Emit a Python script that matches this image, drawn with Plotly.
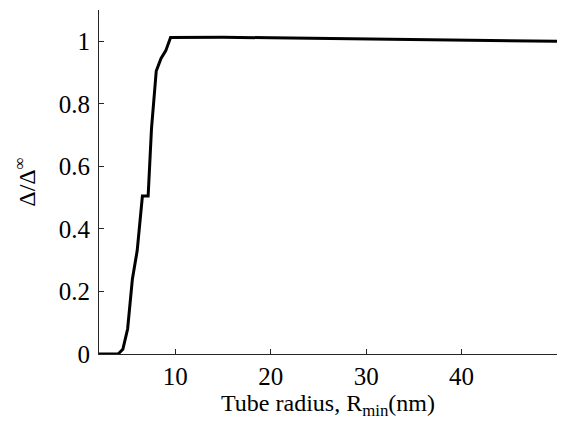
import plotly.graph_objects as go

radius_nm = [2, 3, 4, 4.5, 5, 5.5, 6, 6.55, 7.15, 7.5, 8, 8.5, 9, 9.5, 10, 12, 15, 20, 25, 30, 35, 40, 45, 50]
delta_ratio = [0, 0, 0, 0.015, 0.08, 0.24, 0.33, 0.505, 0.505, 0.72, 0.905, 0.945, 0.97, 1.012,
               1.012, 1.014, 1.013, 1.011, 1.009, 1.007, 1.005, 1.003, 1.001, 1.0]

x_ticks = [10, 20, 30, 40, 50]
y_ticks = [0, 0.2, 0.4, 0.6, 0.8, 1]
y_tick_labels = ["0", "0.2", "0.4", "0.6", "0.8", "1"]

TICKFONT = dict(family="Liberation Serif", size=25, color="black")
TITLEFONT = dict(family="Liberation Serif", size=24, color="black")

fig = go.Figure()
fig.add_trace(go.Scatter(
    x=radius_nm, y=delta_ratio, mode="lines",
    line=dict(color="black", width=3),
    showlegend=False,
))

fig.update_layout(
    width=558, height=416,
    margin=dict(l=91, r=9, t=2, b=70),
    paper_bgcolor="white", plot_bgcolor="white",
    xaxis=dict(
        range=[2, 50], tickvals=x_ticks,
        showline=True, linecolor="#262626", linewidth=1,
        ticks="inside", ticklen=5, tickcolor="#262626",
        showgrid=False, zeroline=False, automargin=False,
        tickfont=TICKFONT,
        title=dict(text="Tube radius, R<sub>min</sub>(nm)", standoff=2, font=TITLEFONT),
    ),
    yaxis=dict(
        range=[0, 1.1], tickvals=y_ticks, ticktext=y_tick_labels,
        showline=True, linecolor="#262626", linewidth=1,
        ticks="inside", ticklen=5, tickcolor="#262626",
        showgrid=False, zeroline=False, automargin=False,
        ticklabelstandoff=3,
        tickfont=TICKFONT,
        title=dict(text="Δ/Δ<sup>∞</sup>", standoff=16, font=TITLEFONT),
    ),
)

fig.write_html("out.html")
